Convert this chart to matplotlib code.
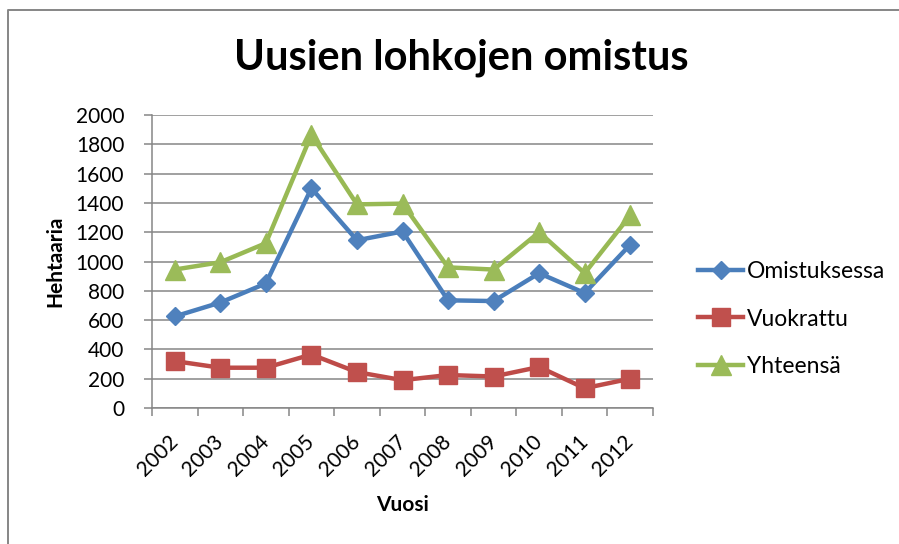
import matplotlib
matplotlib.use("Agg")
import matplotlib.pyplot as plt
from matplotlib.lines import Line2D
from matplotlib.transforms import ScaledTranslation

years = ["2002", "2003", "2004", "2005", "2006", "2007", "2008", "2009", "2010", "2011", "2012"]
omistuksessa = [625, 720, 850, 1500, 1145, 1205, 735, 730, 920, 785, 1115]
vuokrattu = [320, 275, 275, 365, 245, 190, 225, 215, 280, 135, 200]
yhteensa = [945, 995, 1125, 1865, 1390, 1395, 960, 945, 1200, 920, 1315]
yticks = [0, 200, 400, 600, 800, 1000, 1200, 1400, 1600, 1800, 2000]

plt.rcParams['font.family'] = ['Lato', 'DejaVu Sans']

W, H = 899, 544
fig = plt.figure(figsize=(W / 100, H / 100), dpi=100)
ax = fig.add_axes([152 / W, 1 - 408 / H, (653 - 152) / W, (408 - 115) / H])

grid_c = '#868686'
x = list(range(len(years)))
ax.plot(x, omistuksessa, color='#4A7EBB', lw=3.2, marker='D', ms=9.5,
        mfc='#4F81BD', mec='#4F81BD', label='Omistuksessa', zorder=3)
ax.plot(x, vuokrattu, color='#BE4B48', lw=3.2, marker='s', ms=13.5,
        mfc='#C0504D', mec='#C0504D', label='Vuokrattu', zorder=3)
ax.plot(x, yhteensa, color='#98B954', lw=3.2, marker='^', ms=14,
        mfc='#9BBB59', mec='#9BBB59', label='Yhteensä', zorder=3)

ax.set_xlim(-0.5, len(years) - 0.5)
ax.set_ylim(0, 2000)
ax.set_yticks(yticks)
ax.set_yticklabels([str(v) for v in yticks], fontsize=15)
ax.yaxis.grid(True, color=grid_c, lw=1.1)
ax.set_axisbelow(True)

ax.set_xticks([i - 0.5 for i in range(len(years) + 1)])
ax.set_xticklabels([])
ax.set_xticks(x, minor=True)
ax.set_xticklabels(years, minor=True, fontsize=15, rotation=45,
                   ha='right', va='top', rotation_mode='anchor')
ax.tick_params(axis='x', which='minor', length=0, pad=17)
ax.tick_params(axis='both', which='major', length=6, width=1.1, color=grid_c)
ax.tick_params(axis='y', pad=14)
off = ScaledTranslation(-7 / 100, 0, fig.dpi_scale_trans)
for lab in ax.get_xticklabels(minor=True):
    lab.set_transform(lab.get_transform() + off)

for s in ['top', 'right']:
    ax.spines[s].set_visible(False)
for s in ['left', 'bottom']:
    ax.spines[s].set_color(grid_c)
    ax.spines[s].set_linewidth(1.1)

ax.set_ylabel('Hehtaaria', fontsize=15, fontweight='bold', va='center')
ax.yaxis.set_label_coords((55 - 152) / 501, 0.5)
ax.set_xlabel('Vuosi', fontsize=15, fontweight='bold', va='center')
ax.xaxis.set_label_coords(0.5, (408 - 505) / 293)

fig.text(461 / W, 1 - 58 / H, 'Uusien lohkojen omistus', fontsize=30,
         fontweight='bold', ha='center', va='center')

leg = ax.legend(loc='center left', bbox_to_anchor=(677 / W, 1 - 319 / H),
                bbox_transform=fig.transFigure, frameon=False, fontsize=16.5,
                handlelength=2.0, handletextpad=0.15, labelspacing=1.15)

fig.add_artist(Line2D([8 / W, 8 / W, 1.0], [0.0, 1 - 10 / H, 1 - 10 / H],
                      transform=fig.transFigure, color=grid_c, lw=1.4))

fig.savefig('out.png', dpi=100)
